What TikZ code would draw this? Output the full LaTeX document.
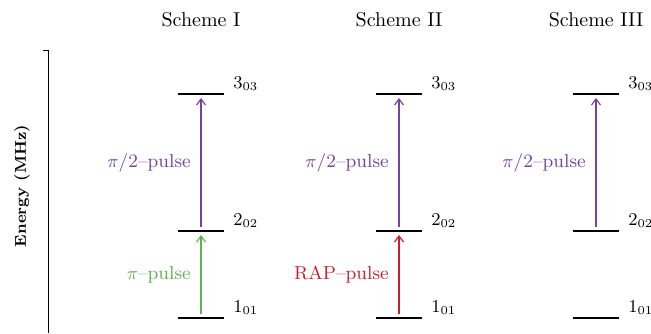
\documentclass[tikz,border=0pt]{standalone}
\usepackage{amsmath,amssymb}
\usepackage{xcolor}
\usepackage{tikz}
\usetikzlibrary{arrows.meta, positioning, calc}

\definecolor{pulsepurple}{RGB}{118,68,158}
\definecolor{pulsegreen}{RGB}{98,176,82}
\definecolor{pulsered}{RGB}{200,30,45}

\begin{document}
\begin{tikzpicture}[
    x=0.5pt, y=-0.5pt,
    level/.style={line width=1pt, draw=black},
    levellabel/.style={anchor=south west, inner sep=0pt, font=\small},
    title/.style={font=\normalsize},
    pulse/.style={-{Straight Barb[length=3pt, width=4.5pt]}, line width=0.6pt, shorten <=2pt, shorten >=2pt},
    pulselabel/.style={midway, left=1.5pt, font=\fontsize{9.4}{11}\selectfont}
]
    \useasboundingbox (0,0) rectangle (651,333);

    % Energy axis
    \coordinate (axtop) at (48,50);
    \coordinate (axbot) at (48,333);
    \draw[line width=0.5pt] ([xshift=-2.5pt]axtop) -- (axtop) -- (axbot);
    \node[rotate=90, font=\fontsize{7.8}{9}\selectfont\bfseries] (energy) at (22,186) {Energy (MHz)};

    % Levels of each scheme
    \foreach \x/\s/\t in {201/I/Scheme I, 399/II/Scheme II, 596/III/Scheme III} {
        \node[title] (title\s) at (\x,20) {\t};
        \coordinate (\s-1) at (\x,318);
        \coordinate (\s-2) at (\x,231);
        \coordinate (\s-3) at (\x,94);
        \foreach \l/\n in {1/$1_{01}$, 2/$2_{02}$, 3/$3_{03}$} {
            \draw[level] ([xshift=-11.5pt]\s-\l) -- ([xshift=11.5pt]\s-\l);
            \node[levellabel] (lab\s-\l) at ([xshift=16pt, yshift=1.5pt]\s-\l) {\n};
        }
    }

    % Pulses
    \draw[pulse, pulsepurple] (I-2) -- node[pulselabel] {$\pi$/2--pulse} (I-3);
    \draw[pulse, pulsegreen] (I-1) -- node[pulselabel] {$\pi$--pulse} (I-2);
    \draw[pulse, pulsepurple] (II-2) -- node[pulselabel] {$\pi$/2--pulse} (II-3);
    \draw[pulse, pulsered] (II-1) -- node[pulselabel] {RAP--pulse} (II-2);
    \draw[pulse, pulsepurple] (III-2) -- node[pulselabel] {$\pi$/2--pulse} (III-3);
\end{tikzpicture}
\end{document}
